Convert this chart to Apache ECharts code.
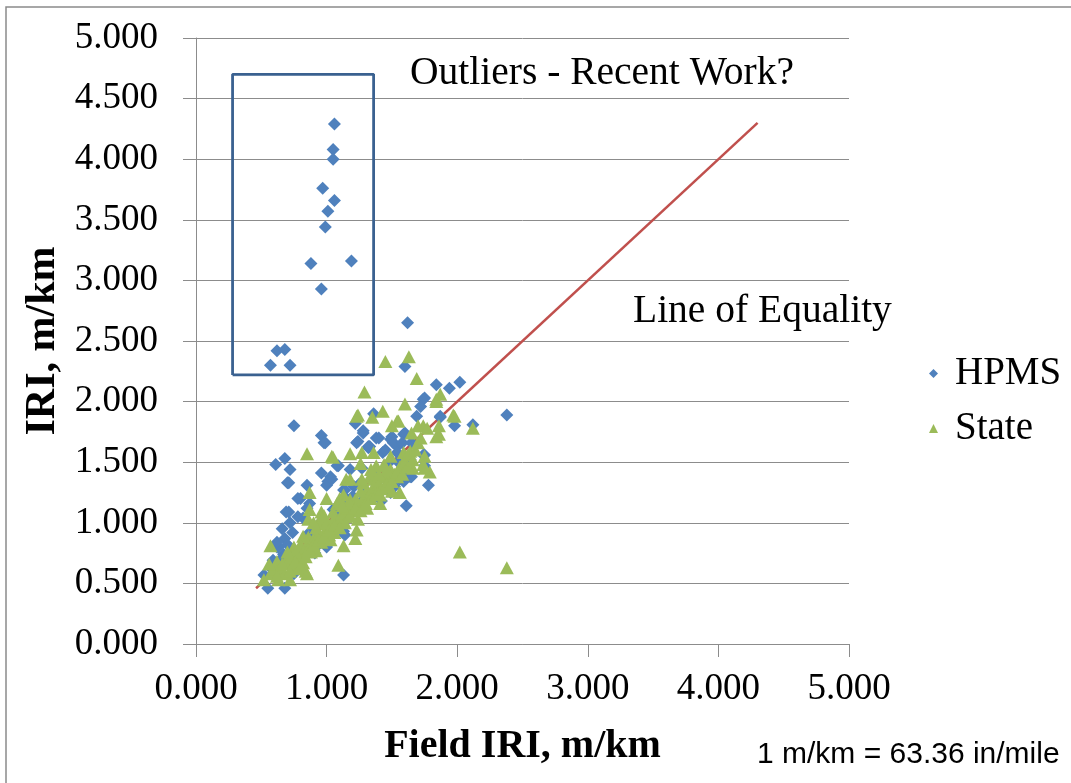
<!DOCTYPE html>
<html lang="en">
	<head>
		<meta charset="utf-8" />
		<title>Field IRI vs IRI</title>
		<style>
			html, body { margin: 0; padding: 0; background: #fff; }
			#chart { width: 1071px; height: 783px; }
		</style>
	</head>
	<body>
		<div id="chart"></div>
		<script type="text/javascript" src="https://cdn.jsdelivr.net/npm/echarts@6/dist/echarts.min.js"></script>
		<script type="text/javascript">
			//HPMS points [field IRI, IRI], m/km
			const hpmsPoints = [
				[1.06,4.29],[1.05,4.08],[1.05,4.00],[0.97,3.76],[1.06,3.66],[1.01,3.57],[0.99,3.44],[0.88,3.14],[1.19,3.16],[0.96,2.93],
				[0.62,2.42],[0.68,2.43],[0.57,2.30],[0.72,2.30],
				[1.62,2.65],[1.60,2.29],[1.84,2.14],[1.94,2.11],[2.02,2.16],[2.38,1.89],[1.74,2.02],[1.72,1.96],[1.75,2.03],[1.36,1.90],
				[0.75,1.80],[1.22,1.82],[1.98,1.80],[2.12,1.81],[1.87,1.87],[1.69,1.88],[1.87,1.88],
				[0.96,1.72],[0.98,1.66],[0.99,1.66],[1.23,1.66],[1.32,1.63],[1.28,1.74],[1.28,1.76],[1.38,1.70],[1.40,1.70],
				[1.49,1.69],[1.50,1.71],[1.59,1.73],[1.60,1.74],[1.54,1.63],[1.51,1.66],[1.58,1.66],[1.65,1.66],[1.43,1.58],[1.33,1.63],
				[1.32,1.62],[1.45,1.60],[1.54,1.58],[1.24,1.67],
				[0.61,1.48],[0.68,1.53],[0.72,1.44],[1.08,1.47],[1.09,1.47],[1.03,1.38],[0.96,1.41],[0.70,1.33],[0.71,1.33],[0.85,1.31],
				[1.00,1.31],[1.01,1.34],[1.64,1.38],[1.59,1.34],[1.78,1.31],[1.74,1.56],[1.75,1.56],[1.75,1.47],[1.61,1.40],[1.65,1.38],
				[1.18,1.44],[1.27,1.45],[1.47,1.49],[1.64,1.52],[1.37,1.41],[1.56,1.36],[1.43,1.27],[1.52,1.30],[1.13,1.27],[1.21,1.30],[1.04,1.36],
				[0.80,1.20],[0.78,1.20],[0.87,1.16],[0.69,1.09],[0.71,1.09],[1.14,1.27],[1.42,1.18],[1.49,1.25],[1.61,1.14],[0.85,1.12],
				[1.05,1.11],[0.82,1.04],[1.18,1.16],[1.28,1.19],
				[0.68,0.87],[0.63,0.80],[0.62,0.80],[0.59,0.69],[0.67,0.74],[0.57,0.63],[0.52,0.57],[0.55,0.46],[0.68,0.46],[0.75,0.58],
				[1.13,0.57],[1.14,0.90],[1.13,0.93],[1.00,0.80],[0.92,0.80],[0.91,0.75],[0.80,0.75],[1.08,1.03],[1.08,1.02],
				[0.90,0.95],[0.95,1.00],[1.10,1.10],[1.20,1.22],[1.30,1.25],[0.75,0.78],[0.65,0.70],[0.85,0.90],[1.35,1.35],[1.45,1.45],
				[1.55,1.50],[1.25,1.32],[1.15,1.20],
				[0.66,0.95],[0.72,1.00],[0.78,1.05],[0.62,0.84],[0.74,0.92],[0.70,0.82]
			];
			//State points [field IRI, IRI], m/km
			const statePoints = [
				[1.45,2.33],[1.63,2.37],[1.69,2.19],[1.29,2.08],[1.60,1.98],[1.87,2.06],[1.84,2.02],[1.84,2.00],[1.23,1.88],[1.43,1.92],
				[1.35,1.87],[1.50,1.80],[1.54,1.84],[1.74,1.80],[1.97,1.89],[1.98,1.88],[2.12,1.78],[1.84,1.71],[1.86,1.73],[1.24,1.89],
				[1.55,1.84],[1.70,1.80],[1.77,1.78],[1.86,1.80],[1.65,1.74],
				[0.85,1.57],[1.04,1.55],[1.05,1.54],[1.18,1.57],[1.27,1.58],[1.36,1.58],[1.59,1.58],[1.75,1.55],[1.79,1.42],[1.49,1.55],
				[1.64,1.59],[1.26,1.49],[1.15,1.36],[1.75,1.45],[1.74,1.48],[1.38,1.47],[1.49,1.44],[1.58,1.49],[1.66,1.45],
				[1.28,1.33],[1.33,1.38],[1.37,1.28],[1.18,1.36],[1.27,1.36],[1.36,1.36],[1.45,1.38],[1.54,1.38],[1.31,1.27],[1.41,1.23],
				[1.50,1.26],[1.13,1.23],[1.08,1.16],[1.22,1.19],[1.31,1.12],[1.41,1.16],[1.56,1.25],
				[0.87,1.25],[1.00,1.20],[1.10,1.20],[1.18,1.19],[0.87,1.11],[0.96,1.09],[0.86,1.03],[0.95,1.03],[1.05,1.09],[1.15,1.05],
				[1.24,1.03],[1.23,0.94],[1.22,0.87],[1.13,0.81],[1.09,0.65],[0.84,0.60],[0.57,0.81],
				[0.82,0.89],[0.92,0.91],[1.03,0.86],[0.75,0.80],[0.80,0.75],[0.69,0.69],[0.64,0.64],[0.57,0.58],[0.52,0.53],[0.63,0.53],
				[0.72,0.53],[0.82,0.67],[0.85,0.58],[0.92,0.77],[1.00,0.94],[1.08,0.97],[0.96,0.99],
				[2.02,0.76],[2.38,0.63],
				[0.60,0.62],[0.66,0.60],[0.70,0.66],[0.73,0.72],[0.78,0.70],[0.76,0.76],[0.80,0.82],[0.84,0.80],[0.88,0.84],[0.86,0.88],
				[0.90,0.86],[0.94,0.90],[0.98,0.92],[0.92,0.96],[1.00,1.00],[1.04,0.98],[1.06,1.04],[1.10,1.02],[1.12,1.08],[1.16,1.12],
				[1.20,1.10],[1.18,1.16],[1.24,1.16],[1.28,1.20],[1.26,1.26],[1.32,1.22],[1.36,1.30],[1.40,1.32],[1.44,1.30],[1.48,1.36],
				[1.52,1.40],[1.46,1.44],[1.56,1.46],[1.60,1.50],[1.62,1.56],[0.70,0.76],[0.74,0.64],[0.68,0.58],[0.62,0.68],[0.78,0.62],
				[0.88,0.76],[0.96,0.84],[1.02,0.90],[1.06,0.92],[0.98,1.06],[0.90,1.00],[1.14,1.00],
				[0.56,0.66],[0.62,0.56],[0.66,0.66],[0.72,0.60],[0.76,0.68],[0.80,0.64],[0.84,0.72],[0.86,0.78],[0.90,0.82],[0.94,0.86],
				[0.98,0.88],[1.02,0.94],[1.06,0.98],[1.10,0.96],[1.12,1.14],[1.18,1.06],[1.22,1.12],[1.26,1.10],[1.30,1.16],[1.34,1.20],
				[1.38,1.24],[1.42,1.28],[1.46,1.32],[1.50,1.34],[1.54,1.42],[1.58,1.40],[1.62,1.46],[1.66,1.52],[1.68,1.60],[1.70,1.66],
				[1.72,1.70],[1.40,1.40],[1.44,1.48],[1.34,1.44]
			];
			//line of equality, end points
			const equalityLine = [[0.46,0.46],[4.30,4.30]];
			//box around the outliers
			const outlierBox = [[0.28,2.22],[0.28,4.70],[1.36,4.70],[1.36,2.22],[0.28,2.22]];
			//axis ticks
			const xTicks = {min: 0, max: 5, interval: 1};
			const yTicks = {min: 0, max: 5, interval: 0.5};

			const serif = '"Liberation Serif", "Times New Roman", serif';
			const gridColor = '#8c8c8c';

			const chart = echarts.init(document.getElementById('chart'));
			const option = {
				animation: false,
				backgroundColor: '#fff',
				grid: {left: 196, right: 222, top: 38, bottom: 139},
				legend: {
					data: ['HPMS', 'State'],
					orient: 'vertical',
					left: 924,
					top: 349,
					itemWidth: 9,
					itemHeight: 9,
					itemGap: 16,
					textStyle: {fontFamily: serif, fontSize: 39, color: '#000', padding: [0, 0, 0, 12]}
				},
				xAxis: {
					type: 'value',
					min: xTicks.min, max: xTicks.max, interval: xTicks.interval,
					name: 'Field IRI, m/km',
					nameLocation: 'middle',
					nameGap: 83,
					nameTextStyle: {fontFamily: serif, fontSize: 40, fontWeight: 'bold', color: '#000'},
					axisLine: {lineStyle: {color: gridColor, width: 1}},
					axisTick: {show: true, length: 13, lineStyle: {color: gridColor}},
					axisLabel: {
						margin: 27,
						fontFamily: serif, fontSize: 37, color: '#000',
						formatter: function(v) { return v.toFixed(3); }
					},
					splitLine: {show: false}
				},
				yAxis: {
					type: 'value',
					min: yTicks.min, max: yTicks.max, interval: yTicks.interval,
					name: 'IRI, m/km',
					nameLocation: 'middle',
					nameGap: 106,
					nameTextStyle: {fontFamily: serif, fontSize: 42, fontWeight: 'bold', color: '#000'},
					axisLine: {show: true, lineStyle: {color: gridColor, width: 1}},
					axisTick: {show: true, length: 13, lineStyle: {color: gridColor}},
					axisLabel: {
						margin: 38,
						fontFamily: serif, fontSize: 37, color: '#000',
						formatter: function(v) { return v.toFixed(3); }
					},
					splitLine: {show: true, lineStyle: {color: gridColor, width: 1}}
				},
				graphic: [
					{ //outer frame
						type: 'rect', silent: true,
						shape: {x: 6, y: 7, width: 1100, height: 800},
						style: {fill: null, stroke: '#8a8a8a', lineWidth: 1.5}
					},
					{
						type: 'text', x: 410, y: 74,
						style: {text: 'Outliers - Recent Work?', font: '39.5px ' + serif, fill: '#000', verticalAlign: 'middle'}
					},
					{
						type: 'text', x: 633, y: 312,
						style: {text: 'Line of Equality', font: '39.5px ' + serif, fill: '#000', verticalAlign: 'middle'}
					},
					{
						type: 'text', x: 757, y: 755,
						style: {text: '1 m/km = 63.36 in/mile', font: '30px "Liberation Sans", Arial, sans-serif', fill: '#000', verticalAlign: 'middle'}
					}
				],
				series: [
					{
						name: 'box',
						type: 'line',
						data: outlierBox,
						symbol: 'none',
						silent: true,
						lineStyle: {color: '#3a6190', width: 2.8},
						z: 1
					},
					{
						name: 'equality',
						type: 'line',
						data: equalityLine,
						symbol: 'none',
						silent: true,
						lineStyle: {color: '#c0504d', width: 2.5},
						z: 2
					},
					{
						name: 'HPMS',
						type: 'scatter',
						symbol: 'diamond',
						symbolSize: [13, 13],
						itemStyle: {color: '#4f81bd', opacity: 1},
						data: hpmsPoints,
						z: 3
					},
					{
						name: 'State',
						type: 'scatter',
						symbol: 'triangle',
						symbolSize: [14, 13],
						itemStyle: {color: '#9bbb59', opacity: 1},
						data: statePoints,
						z: 4
					}
				]
			};
			chart.setOption(option);
		</script>
	</body>
</html>
